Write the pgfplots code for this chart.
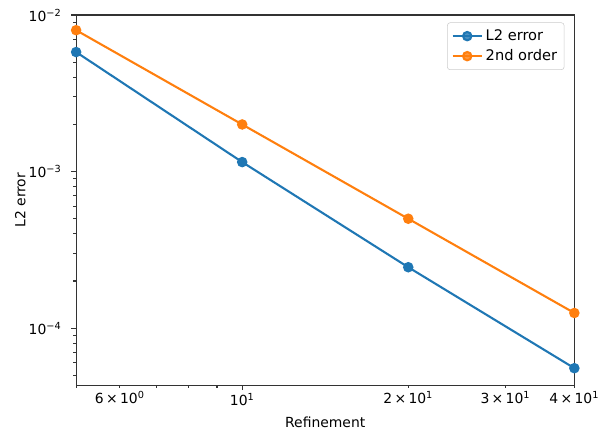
\documentclass[border=0pt]{standalone}
\usepackage{pgfplots}
\pgfplotsset{compat=1.18}
\usepackage{fontspec}
\setmainfont{DejaVu Sans}
\definecolor{c0}{HTML}{1F77B4}
\definecolor{c1}{HTML}{FF7F0E}
\begin{document}
\begin{tikzpicture}[font=\fontsize{10}{12}\selectfont]
  \begin{axis}[
    xmode=log, ymode=log,
    width=358pt, height=266pt,
    scale only axis,
    xmin=5, xmax=40,
    ymin=4.32e-5, ymax=1e-2,
    axis line style={line width=0.8pt, black!80},
    tick pos=left,
    tick align=outside,
    tick style={black!80, line width=0.8pt},
    major tick length=3.5pt,
    minor tick length=2pt,
    xtick={10},
    xticklabels={10\textsuperscript{1}},
    minor xtick={5,7,8,9},
    extra x ticks={6,20,30,40},
    extra x tick labels={6\,×\,10\textsuperscript{0},2\,×\,10\textsuperscript{1},3\,×\,10\textsuperscript{1},4\,×\,10\textsuperscript{1}},
    extra x tick style={major tick length=2pt, grid=none, tick pos=left},
    xticklabel style={yshift=1pt},
    ytick={1e-4,1e-3,1e-2},
    yticklabels={10\textsuperscript{−4},10\textsuperscript{−3},10\textsuperscript{−2}},
    yticklabel style={xshift=-3.5pt},
    minor ytick={5e-5,6e-5,7e-5,8e-5,9e-5,2e-4,3e-4,4e-4,5e-4,6e-4,7e-4,8e-4,9e-4,2e-3,3e-3,4e-3,5e-3,6e-3,7e-3,8e-3,9e-3},
    xlabel={Refinement},
    ylabel={L2 error},
    xlabel style={at={(axis description cs:0.5,-0.1)}, anchor=center},
    ylabel style={at={(axis description cs:-0.112,0.5)}, anchor=center},
    legend style={at={(0.98,0.98)}, anchor=north east, draw=black!20, rounded corners=2pt, fill=white, fill opacity=0.8, text opacity=1, inner sep=3pt, row sep=1pt, font=\fontsize{10.5}{12}\selectfont},
    legend image code/.code={
      \draw[mark repeat=2, mark phase=2] plot coordinates {(0cm,0cm) (0.37cm,0cm) (0.74cm,0cm)};
    },
    legend cell align=left,
    clip=false,
  ]
    \addplot[c0, line width=1.5pt, mark=*, mark size=3pt, mark options={solid}] coordinates {
      (5, 5.8e-3) (10, 1.15e-3) (20, 2.45e-4) (40, 5.55e-5)
    };
    \addlegendentry{L2 error}
    \addplot[c1, line width=1.5pt, mark=*, mark size=3pt, mark options={solid}] coordinates {
      (5, 8e-3) (10, 2e-3) (20, 5e-4) (40, 1.25e-4)
    };
    \addlegendentry{2nd order}
    \coordinate (sw) at (rel axis cs:0,0);
    \coordinate (ne) at (rel axis cs:1,1);
  \end{axis}
  \pgfresetboundingbox
  \path ([shift={(-54.7pt,-33pt)}]sw) rectangle ([shift={(17pt,10.8pt)}]ne);
\end{tikzpicture}
\end{document}
